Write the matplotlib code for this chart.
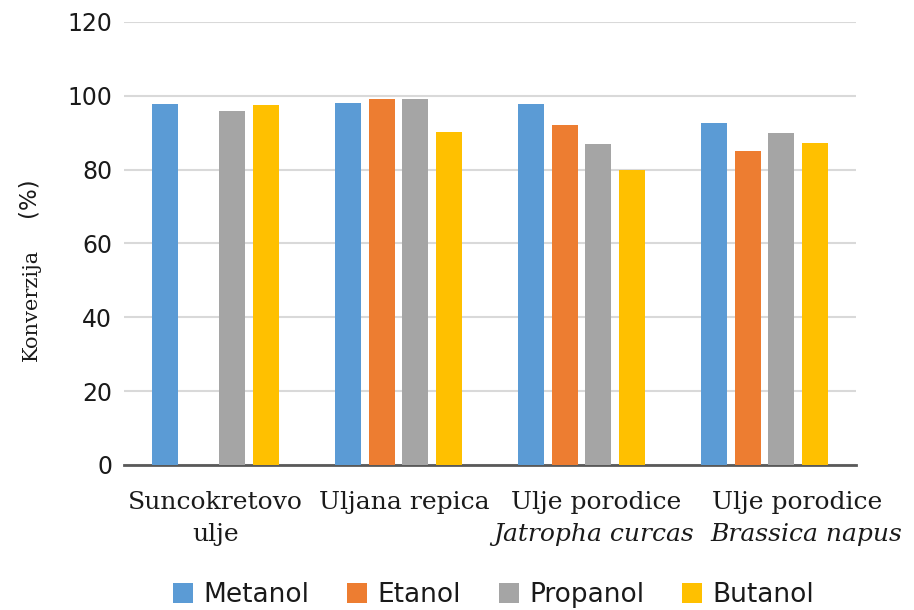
import matplotlib.pyplot as plt
import matplotlib.transforms as mtransforms
import numpy as np

categories = ['Suncokretovo', 'Uljana repica', 'Ulje porodice', 'Ulje porodice']
second_lines = ['ulje', '', 'Jatropha curcas', 'Brassica napus']
second_italic = [False, False, True, True]
series = ['Metanol', 'Etanol', 'Propanol', 'Butanol']
metanol = [97.7, 98.0, 97.9, 92.5]
etanol = [0, 99.1, 92.1, 85.0]
propanol = [96.0, 99.1, 87.0, 90.0]
butanol = [97.5, 90.1, 80.0, 87.2]
colors = ['#5B9BD5', '#ED7D31', '#A5A5A5', '#FFC000']

# labels in the original sit a bit right of the groups (pixels)
shift1 = [0, 6, 15, 33]
shift2 = [0, 0, 12, 42]

fig = plt.figure(figsize=(9.14, 6.10), dpi=100)
ax = fig.add_axes([0.1357, 0.238, 0.8008, 0.726])

x = np.arange(len(categories))
slot = 0.183
width = 0.142
for i, (name, vals) in enumerate(zip(series, [metanol, etanol, propanol, butanol])):
    ax.bar(x + (i - 1.5) * slot, vals, width, color=colors[i], label=name, zorder=3)

ax.set_xlim(-0.5, 3.5)
ax.set_ylim(0, 120)
ax.set_yticks(range(0, 121, 20))
ax.yaxis.grid(True, color='#D9D9D9', linewidth=1.5, zorder=0)
for s in ['top', 'right', 'left']:
    ax.spines[s].set_visible(False)
ax.spines['bottom'].set_color('#595959')
ax.spines['bottom'].set_linewidth(2)
ax.tick_params(axis='y', length=0, labelsize=17, pad=8.5, labelcolor='#1a1a1a')
ax.set_xticks([])

base = ax.get_xaxis_transform()
for xi, t1, t2, it, s1, s2 in zip(x, categories, second_lines, second_italic, shift1, shift2):
    tr1 = mtransforms.offset_copy(base, fig=fig, x=s1, y=0, units='dots')
    ax.text(xi, -0.086, t1, transform=tr1, ha='center', va='center',
            fontfamily='DejaVu Serif', fontsize=18, color='#1a1a1a')
    if t2:
        tr2 = mtransforms.offset_copy(base, fig=fig, x=s2, y=0, units='dots')
        ax.text(xi, -0.158, t2, transform=tr2, ha='center', va='center',
                fontfamily='DejaVu Serif', fontstyle='italic' if it else 'normal',
                fontsize=18, color='#1a1a1a')

fig.text(0.034, 0.50, 'Konverzija', rotation=90, ha='center', va='center',
         fontfamily='DejaVu Serif', fontsize=15, color='#1a1a1a')
fig.text(0.031, 0.676, '(%)', rotation=90, ha='center', va='center',
         fontfamily='DejaVu Sans', fontsize=16.5, color='#1a1a1a')

fig.legend(loc='center', bbox_to_anchor=(0.54, 0.0246), ncol=4, frameon=False,
           prop={'family': 'DejaVu Sans', 'size': 19}, handlelength=0.76,
           handleheight=0.76, handletextpad=0.38, columnspacing=1.44,
           labelcolor='#1a1a1a')

fig.savefig('out.png', dpi=100)
